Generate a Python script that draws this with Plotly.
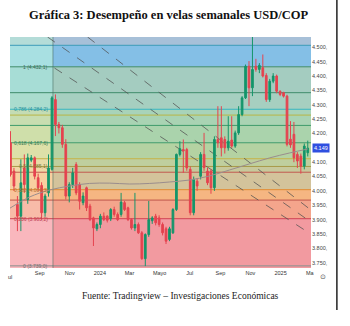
import pandas as pd
import plotly.graph_objects as go

# ---------------- data ----------------
start_week = "2023-07-04"
opens = [4168,4069,3953,3912,4080,3970,4107,4115,4046,4019,3924,3993,4075,4318,4231,4220,4162,3982,4022,4092,
         4022,3959,4011,3947,3906,3868,3883,3912,3912,3903,3935,3918,3918,3959,3941,3900,3871,3883,3854,3764,
         3848,3896,3912,3906,3883,3868,3831,3854,3935,4127,4144,4144,4075,3924,4034,4051,4127,4069,4069,4011,
         4179,4185,4179,4150,4177,4156,4202,4266,4324,4434,4359,4434,4423,4429,4402,4318,4382,4400,4347,4342,
         4330,4180,4197,4127,4121,4086,4133]
highs = [4208,4080,3982,4110,4127,4130,4125,4120,4060,4030,3990,4127,4330,4336,4240,4230,4180,4030,4080,4100,
         4030,3995,4015,3955,3910,3890,3920,3925,3915,3940,3945,3925,3993,3965,3945,3905,3993,3890,3860,3852,
         3965,3912,3920,3915,3890,3875,3875,3940,4130,4173,4179,4150,4085,4050,4045,4135,4202,4080,4075,4190,
         4295,4295,4190,4260,4260,4210,4295,4330,4440,4452,4545,4460,4445,4475,4410,4390,4410,4405,4350,4345,
         4335,4243,4240,4135,4130,4165,4175]
lows = [4050,4000,3860,3860,3993,3955,4100,4040,4000,3900,3910,3980,4070,4191,4200,4150,3970,3960,4010,3985,
        3935,3950,3930,3895,3808,3860,3870,3895,3890,3895,3910,3895,3910,3930,3895,3865,3860,3850,3760,3738,
        3840,3885,3880,3875,3845,3815,3825,3850,3930,4120,4063,4070,3915,3915,4000,4040,4070,4020,3990,4000,
        4150,4120,4130,4140,4150,4150,4195,4260,4320,4295,4330,4415,4410,4395,4310,4310,4375,4340,4330,4325,
        4155,4150,4100,4080,4060,4075,4120]
closes = [4057,4017,3912,4028,4022,4115,4115,4051,4011,3924,3982,4080,4324,4231,4220,4162,3982,4022,4063,3993,
          3964,3982,3941,3900,3871,3883,3912,3900,3898,3935,3918,3900,3961,3935,3900,3871,3883,3854,3764,3848,
          3900,3906,3889,3883,3854,3825,3868,3935,4127,4147,4139,4080,3924,4040,4017,4127,4081,4028,4011,4179,
          4168,4150,4150,4173,4156,4202,4266,4324,4434,4359,4423,4423,4437,4400,4318,4382,4400,4347,4336,4330,
          4162,4160,4115,4104,4086,4156,4149]

ma_dates = ["2023-07-03","2023-08-12","2023-09-21","2023-11-01","2023-12-11","2024-01-21","2024-03-01",
            "2024-04-11","2024-05-21","2024-07-01","2024-08-10","2024-09-20","2024-10-30","2024-12-10",
            "2025-01-19","2025-02-25"]
ma_values = [3940,3979,4003,4017,4026,4027,4024,4026,4031,4038,4052,4073,4094,4115,4132,4146]

level_prices = [4507,4432.1,4342,4284.2,4264,4228,4167.6,4112,4085.1,4065,4004.3,3968,3903.2,3739.0]
level_colors = ["#3a9ab8","#3d8a6a","#3d8a6a","#35b5c0","#b8b545","#3d9a6a","#3d9a6a","#c2b244",
                "#a89a48","#c0574a","#e08a30","#c0574a","#d04050","#8a8a8a"]
band_right = ["#a7c0d8","#84bfe6","#a4ccc0","#a6cfc0","#a8d3b9","#a9d3b3","#aad3ac","#b4d2a2",
              "#bfcf9e","#c7c99c","#d3c39b","#f5b682","#f4a58c","#f29aa0","#f29aa0"]
band_left = ["#b4dcd8","#a8e0e2","#a7ddd6","#aadcce","#c4dcb4","#c8ddb0","#cfdfaa","#dde0a8",
             "#e8dca8","#f0d8a6","#f8d0a0","#f9c39a","#f8bba8","#f9b7bd","#f9b7bd"]
fib_labels = ["1 (4.432,1)","0,786 (4.284,2)","0,618 (4.167,6)","0,5 (4.085,1)","0,382 (4.004,3)",
              "0,236 (3.903,2)","0 (3.739,0)"]
fib_label_prices = [4432.1,4284.2,4167.6,4085.1,4004.3,3903.2,3739.0]
fib_label_colors = ["#3d6b5a","#2a8f9a","#3b7a50","#7a7a3a","#b07030","#c04050","#707070"]

trend_starts = [("2023-12-07",4536),("2023-09-17",4536),("2023-10-01",4428)]
trend_ends = [("2025-03-03",3934),("2025-03-03",3892),("2025-03-03",3850)]

ytick_vals = [3750,3800,3850,3900,3950,4000,4050,4100,4200,4250,4300,4350,4400,4450,4500]
ytick_text = [f"{v//1000}.{v%1000:03d}," for v in ytick_vals]
xtick_vals = ["2023-09-01","2023-11-01","2024-01-01","2024-03-01","2024-05-01","2024-07-01",
              "2024-09-01","2024-11-01","2025-01-01","2025-03-01"]
xtick_text = ["Sep","Nov","2024","Mar","Mayo","Jul","Sep","Nov","2025","Ma"]
last_price = 4149
fib_start = "2023-09-28"
x_range = ["2023-07-03", "2025-03-03 14:00"]
y_range = [3731.5, 4535.9]

# ---------------- figure ----------------
dates = pd.date_range(start_week, periods=len(closes), freq="7D")
fig = go.Figure()

shapes = []
bounds = [y_range[1]] + level_prices + [y_range[0]]
for i in range(len(bounds) - 1):
    shapes.append(dict(type="rect", xref="x", yref="y", x0=x_range[0], x1=fib_start,
                       y0=bounds[i + 1], y1=bounds[i], fillcolor=band_left[i], line_width=0, layer="below"))
    shapes.append(dict(type="rect", xref="x", yref="y", x0=fib_start, x1=x_range[1],
                       y0=bounds[i + 1], y1=bounds[i], fillcolor=band_right[i], line_width=0, layer="below"))
for p, c in zip(level_prices, level_colors):
    shapes.append(dict(type="line", xref="x", yref="y", x0=x_range[0], x1=x_range[1], y0=p, y1=p,
                       line=dict(color=c, width=1), layer="below"))
shapes.append(dict(type="line", xref="x", yref="y", x0=fib_start, x1=fib_start, y0=y_range[0], y1=y_range[1],
                   line=dict(color="rgba(60,100,90,0.55)", width=1), layer="below"))
for (d0, p0), (d1, p1) in zip(trend_starts, trend_ends):
    shapes.append(dict(type="line", xref="x", yref="y", x0=d0, y0=p0, x1=d1, y1=p1,
                       line=dict(color="rgba(80,80,80,0.75)", width=1, dash="dash"), layer="below"))
# page border line at right
shapes.append(dict(type="line", xref="paper", yref="paper", x0=1.086, x1=1.086, y0=-0.182, y1=1.17,
                   line=dict(color="#222", width=1.5)))

fig.add_trace(go.Scatter(x=ma_dates, y=ma_values, mode="lines", line=dict(color="#9a8d8d", width=1, shape="spline"),
                         hoverinfo="skip", showlegend=False))
fig.add_trace(go.Candlestick(x=dates, open=opens, high=highs, low=lows, close=closes,
                             increasing=dict(line=dict(color="#14956a", width=1), fillcolor="#14956a"),
                             decreasing=dict(line=dict(color="#e5434f", width=1), fillcolor="#e5434f"),
                             whiskerwidth=0, showlegend=False))

annotations = []
for t, p, c in zip(fib_labels, fib_label_prices, fib_label_colors):
    annotations.append(dict(x="2023-09-21", y=p, xref="x", yref="y", text=t, showarrow=False,
                            xanchor="right", yanchor="middle", font=dict(size=5, color=c, family="Liberation Sans")))
annotations.append(dict(x=1.003, y=last_price, xref="paper", yref="y", text=f"{last_price//1000}.{last_price%1000:03d}",
                        showarrow=False, xanchor="left", yanchor="middle", bgcolor="#2f4fe0", borderpad=1,
                        font=dict(size=5.5, color="white", family="Liberation Sans")))
annotations.append(dict(x=0.526, y=1.095, xref="paper", yref="paper",
                        text="<b>Gráfica 3: Desempeño en velas semanales USD/COP</b>", showarrow=False,
                        xanchor="center", yanchor="middle", font=dict(size=12.5, color="#111", family="Liberation Serif")))
annotations.append(dict(x=0.568, y=-0.121, xref="paper", yref="paper",
                        text="Fuente: Tradingview – Investigaciones Económicas", showarrow=False,
                        xanchor="center", yanchor="middle", font=dict(size=9.5, color="#222", family="Liberation Serif")))
annotations.append(dict(x=0.0, y=-0.04, xref="paper", yref="paper", text="ul", showarrow=False,
                        xanchor="center", yanchor="middle", font=dict(size=5.5, color="#333", family="Liberation Sans")))
annotations.append(dict(x=1.04, y=-0.04, xref="paper", yref="paper", text="⊙", showarrow=False,
                        xanchor="center", yanchor="middle", font=dict(size=7, color="#555", family="DejaVu Sans")))

fig.update_layout(
    width=350, height=326,
    margin=dict(l=10, r=39, t=37, b=58),
    paper_bgcolor="white", plot_bgcolor="#f2f2f2",
    shapes=shapes, annotations=annotations,
    xaxis=dict(range=x_range, type="date", tickvals=xtick_vals, ticktext=xtick_text,
               tickfont=dict(size=5.5, color="#333", family="Liberation Sans"),
               showgrid=False, zeroline=False, rangeslider=dict(visible=False), ticks="", fixedrange=True),
    yaxis=dict(range=y_range, side="right", tickvals=ytick_vals, ticktext=ytick_text,
               tickfont=dict(size=5.5, color="#444", family="Liberation Sans"),
               showgrid=False, zeroline=False, ticks="", fixedrange=True),
    showlegend=False,
)
fig.write_html("out.html")
